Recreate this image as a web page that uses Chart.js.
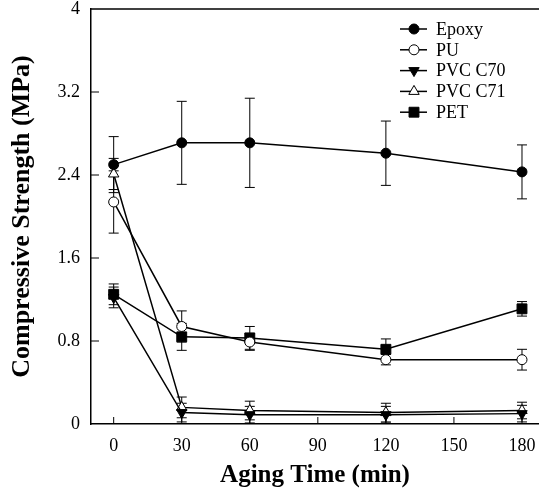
<!DOCTYPE html>
<html>
<head>
<meta charset="utf-8">
<script src="https://cdn.jsdelivr.net/npm/chart.js@4/dist/chart.umd.min.js"></script>
<style>
  html, body { margin: 0; padding: 0; background: #fff; }
  #grafico { display: block; }
</style>
</head>
<body>
<canvas id="grafico" width="539" height="496"></canvas>
<script>
// tempos de envelhecimento (min)
var tempos = [0, 30, 60, 120, 180];

// resistencia a compressao (MPa) e desvio
var epoxy = [2.50, 2.71, 2.71, 2.61, 2.43];
var epoxyErro = [0.27, 0.40, 0.43, 0.31, 0.26];
var pu = [2.14, 0.94, 0.79, 0.62, 0.62];
var puErro = [0.30, 0.15, 0.08, 0.05, 0.10];
var pvcC70 = [1.22, 0.11, 0.09, 0.09, 0.10];
var pvcC70Erro = [0.10, 0.09, 0.08, 0.08, 0.08];
var pvcC71 = [2.41, 0.16, 0.13, 0.11, 0.13];
var pvcC71Erro = [0.15, 0.10, 0.09, 0.09, 0.08];
var pet = [1.25, 0.84, 0.83, 0.72, 1.11];
var petErro = [0.10, 0.13, 0.11, 0.10, 0.07];

var ticksX = [0, 30, 60, 90, 120, 150, 180];
var ticksY = [0, 0.8, 1.6, 2.4, 3.2, 4];

var fonte = '"Liberation Serif", "Times New Roman", serif';

function pontos(valores) {
  return tempos.map(function(t, i) { return { x: t, y: valores[i] }; });
}

function serie(nome, valores, erros, estilo, cheio, raio, rot) {
  return {
    label: nome,
    data: pontos(valores),
    erros: erros,
    borderColor: "#000",
    borderWidth: 1.5,
    pointStyle: estilo,
    pointRotation: rot || 0,
    pointRadius: raio,
    pointBorderWidth: 1,
    pointBorderColor: "#000",
    pointBackgroundColor: cheio ? "#000" : "#fff",
    backgroundColor: cheio ? "#000" : "#fff",
    tension: 0,
    fill: false,
    clip: false
  };
}

var datasets = [
  serie("Epoxy", epoxy, epoxyErro, "circle", true, 5),
  serie("PU", pu, puErro, "circle", false, 5),
  serie("PVC C70", pvcC70, pvcC70Erro, "triangle", true, 6, 180),
  serie("PVC C71", pvcC71, pvcC71Erro, "triangle", false, 6),
  serie("PET", pet, petErro, "rect", true, 7)
];

// barras de erro
var barrasErro = {
  id: "barrasErro",
  beforeDatasetsDraw: function(chart) {
    var ctx = chart.ctx, sx = chart.scales.x, sy = chart.scales.y;
    ctx.save();
    ctx.strokeStyle = "#000";
    ctx.lineWidth = 1;
    chart.data.datasets.forEach(function(ds) {
      ds.data.forEach(function(p, i) {
        var e = ds.erros[i];
        var px = sx.getPixelForValue(p.x);
        var y1 = sy.getPixelForValue(p.y + e);
        var y2 = sy.getPixelForValue(Math.max(p.y - e, 0));
        ctx.beginPath();
        ctx.moveTo(px, y1); ctx.lineTo(px, y2);
        ctx.moveTo(px - 5, y1); ctx.lineTo(px + 5, y1);
        ctx.moveTo(px - 5, y2); ctx.lineTo(px + 5, y2);
        ctx.stroke();
      });
    });
    ctx.restore();
  }
};

// moldura, marcas internas e legenda
var moldura = {
  id: "moldura",
  afterDraw: function(chart) {
    var ctx = chart.ctx, a = chart.chartArea;
    var sx = chart.scales.x, sy = chart.scales.y;
    ctx.save();
    ctx.strokeStyle = "#000";
    ctx.lineWidth = 1.5;
    ctx.beginPath();
    ctx.moveTo(a.left, a.top); ctx.lineTo(a.right, a.top);
    ctx.stroke();
    ctx.lineWidth = 1;
    ctx.beginPath();
    ticksX.forEach(function(v) {
      var px = sx.getPixelForValue(v);
      ctx.moveTo(px, a.bottom); ctx.lineTo(px, a.bottom - 7);
    });
    ticksY.forEach(function(v) {
      if (v === 0 || v === 4) return;
      var py = sy.getPixelForValue(v);
      ctx.moveTo(a.left, py); ctx.lineTo(a.left + 8, py);
    });
    ctx.stroke();

    // legenda
    ctx.font = "18px " + fonte;
    ctx.textBaseline = "middle";
    chart.data.datasets.forEach(function(ds, i) {
      var y = 29 + i * 20.8;
      ctx.strokeStyle = "#000";
      ctx.lineWidth = 1.5;
      ctx.beginPath();
      ctx.moveTo(400, y); ctx.lineTo(427, y);
      ctx.stroke();
      ctx.fillStyle = ds.pointBackgroundColor;
      ctx.lineWidth = 1;
      Chart.helpers.drawPoint(ctx, {
        pointStyle: ds.pointStyle,
        rotation: ds.pointRotation,
        radius: ds.pointRadius,
        borderWidth: 1
      }, 414, y);
      ctx.fillStyle = "#000";
      ctx.fillText(ds.label, 436, y + 1);
    });
    ctx.restore();
  }
};

new Chart(document.getElementById("grafico").getContext("2d"), {
  type: "line",
  data: { datasets: datasets },
  plugins: [barrasErro, moldura],
  options: {
    responsive: false,
    animation: false,
    layout: { autoPadding: false, padding: { top: 9, right: 0, left: 0, bottom: 0 } },
    plugins: { legend: { display: false }, tooltip: { enabled: false } },
    scales: {
      x: {
        type: "linear",
        min: -10,
        max: 187.5,
        grid: { display: false, drawTicks: false },
        border: { display: true, color: "#000", width: 1.5 },
        afterBuildTicks: function(s) { s.ticks = ticksX.map(function(v) { return { value: v }; }); },
        afterFit: function(s) { s.height = 72; s.paddingRight = 0; s.paddingLeft = 0; },
        ticks: { color: "#000", font: { family: fonte, size: 18 }, padding: 11, maxRotation: 0 },
        title: { display: true, text: "Aging Time (min)", color: "#000",
                 font: { family: fonte, size: 25, weight: "bold" }, padding: { top: 0, bottom: 5 } }
      },
      y: {
        type: "linear",
        min: 0,
        max: 4,
        grid: { display: false, drawTicks: false },
        border: { display: true, color: "#000", width: 1.5 },
        afterBuildTicks: function(s) { s.ticks = ticksY.map(function(v) { return { value: v }; }); },
        afterFit: function(s) { s.width = 91; s.paddingTop = 0; s.paddingBottom = 0; },
        ticks: { color: "#000", font: { family: fonte, size: 18 }, padding: 11,
                 callback: function(v) { return String(Number(v.toFixed(1))); } },
        title: { display: true, text: "Compressive Strength (MPa)", color: "#000",
                 font: { family: fonte, size: 26, weight: "bold" }, padding: { top: 7, bottom: 0 } }
      }
    }
  }
});
</script>
</body>
</html>
